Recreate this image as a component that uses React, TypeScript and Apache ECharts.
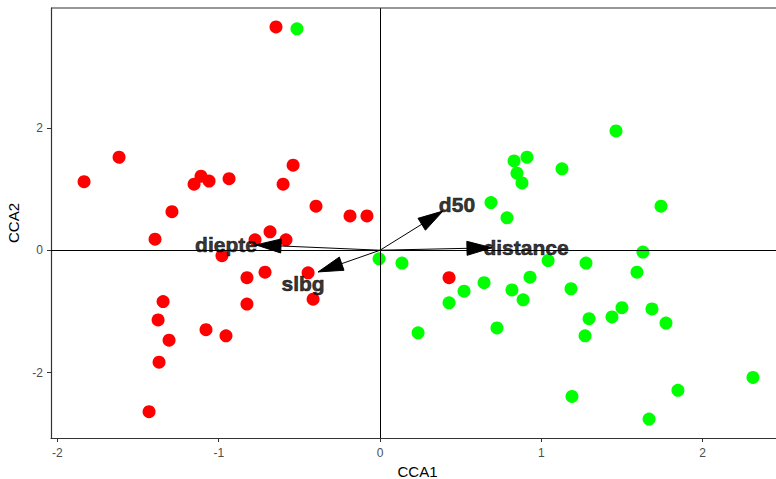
import React, { useEffect, useRef } from "react";
import * as echarts from "echarts";

const redPoints: number[][] = [
  [-0.645, 3.65], [-1.835, 1.12], [-1.618, 1.52], [-1.29, 0.63], [-1.153, 1.08],
  [-1.11, 1.21], [-1.06, 1.13], [-0.936, 1.17], [-1.395, 0.18], [-0.539, 1.39],
  [-0.601, 1.08], [-0.397, 0.72], [-0.186, 0.56], [-0.081, 0.56], [-0.682, 0.3],
  [-0.583, 0.17], [-0.775, 0.17], [-0.98, -0.09], [-0.713, -0.36], [-0.825, -0.45],
  [-0.446, -0.37], [-0.415, -0.8], [-1.345, -0.84], [-1.376, -1.14], [-1.308, -1.47],
  [-1.37, -1.83], [-1.432, -2.64], [-1.079, -1.3], [-0.955, -1.4], [-0.825, -0.88],
  [0.428, -0.45],
];

const greenPoints: number[][] = [
  [-0.515, 3.62], [-0.006, -0.14], [0.136, -0.21], [0.236, -1.35], [0.428, -0.86],
  [0.521, -0.67], [0.645, -0.53], [0.725, -1.27], [0.818, -0.65], [0.887, -0.81],
  [0.93, -0.44], [1.042, -0.17], [1.184, -0.63], [1.277, -0.21], [1.271, -1.4],
  [1.296, -1.12], [1.19, -2.39], [1.438, -1.09], [1.5, -0.94], [1.593, -0.36],
  [1.63, -0.03], [1.686, -0.96], [1.773, -1.19], [1.668, -2.76], [1.847, -2.29],
  [2.312, -2.08], [1.463, 1.95], [0.831, 1.46], [0.911, 1.52], [0.849, 1.26],
  [0.88, 1.1], [1.128, 1.33], [0.688, 0.78], [0.787, 0.53], [1.742, 0.72],
];

const arrowNames = ["diepte", "slbg", "d50", "distance"];
const arrowTips: number[][] = [[-0.769, 0.087], [-0.384, -0.355], [0.39, 0.64], [0.694, 0.04]];
const labelPos: number[][] = [[-0.955, 0.087], [-0.477, -0.55], [0.477, 0.74], [0.905, 0.04]];

const xTicks = [-2, -1, 0, 1, 2];
const yTicks = [-2, 0, 2];

export default function App() {
  const ref = useRef<HTMLDivElement>(null);
  useEffect(() => {
    if (!ref.current) return;
    const chart = echarts.init(ref.current, undefined, { renderer: "svg" });
    const axisColor = "#333333";
    const renderArrow = (_params: any, api: any) => {
      const p0 = api.coord([0, 0]);
      const p1 = api.coord([api.value(0), api.value(1)]);
      const dx = p1[0] - p0[0];
      const dy = p1[1] - p0[1];
      const len = Math.sqrt(dx * dx + dy * dy) || 1;
      const ux = dx / len;
      const uy = dy / len;
      const L = 25;
      const W = 7;
      const bx = p1[0] - ux * L;
      const by = p1[1] - uy * L;
      return {
        type: "group",
        children: [
          {
            type: "line",
            shape: { x1: p0[0], y1: p0[1], x2: p1[0], y2: p1[1] },
            style: { stroke: "#000", lineWidth: 1 },
          },
          {
            type: "polygon",
            shape: {
              points: [
                [p1[0], p1[1]],
                [bx - uy * W, by + ux * W],
                [bx + uy * W, by - ux * W],
              ],
            },
            style: { fill: "#000", stroke: "#000", lineWidth: 1 },
          },
        ],
      };
    };
    chart.setOption({
      animation: false,
      backgroundColor: "#ffffff",
      grid: { left: 51, right: 0, top: 8, bottom: 41, outerBoundsMode: "none", containLabel: false },
      xAxis: {
        type: "value",
        min: -2.04,
        max: 2.455,
        name: "CCA1",
        nameLocation: "middle",
        nameGap: 23,
        nameTextStyle: { color: "#000", fontSize: 15, fontFamily: "Liberation Sans", padding: [0, 0, 0, 8] },
        splitLine: { show: false },
        axisLine: { show: true, onZero: false, lineStyle: { color: axisColor, width: 1.2 } },
        axisTick: { show: true, length: 4, customValues: xTicks, lineStyle: { color: axisColor } },
        axisLabel: { customValues: xTicks, color: "#4d4d4d", fontSize: 12, margin: 9, fontFamily: "Liberation Sans" },
      },
      yAxis: {
        type: "value",
        min: -3.07,
        max: 3.96,
        name: "CCA2",
        nameLocation: "middle",
        nameGap: 22,
        nameTextStyle: { color: "#000", fontSize: 15, fontFamily: "Liberation Sans" },
        splitLine: { show: false },
        axisLine: { show: true, onZero: false, lineStyle: { color: axisColor, width: 1.2 } },
        axisTick: { show: true, length: 4, customValues: yTicks, lineStyle: { color: axisColor } },
        axisLabel: { customValues: yTicks, color: "#4d4d4d", fontSize: 12, margin: 8, fontFamily: "Liberation Sans" },
      },
      graphic: [
        { type: "line", shape: { x1: 51, y1: 8, x2: 776, y2: 8 }, style: { stroke: axisColor, lineWidth: 1.2 }, z: 10 },
      ],
      series: [
        {
          type: "scatter",
          data: redPoints,
          symbolSize: 13,
          itemStyle: { color: "#ff0000", opacity: 1 },
          markLine: {
            silent: true,
            symbol: "none",
            label: { show: false },
            lineStyle: { color: "#000", width: 1, type: "solid" },
            data: [{ xAxis: 0 }, { yAxis: 0 }],
          },
          z: 2,
        },
        {
          type: "scatter",
          data: greenPoints,
          symbolSize: 13,
          itemStyle: { color: "#00ff00", opacity: 1 },
          z: 2,
        },
        {
          type: "scatter",
          symbolSize: 0,
          data: labelPos.map((p, i) => ({ name: arrowNames[i], value: p })),
          label: {
            show: true,
            position: "inside",
            formatter: "{b}",
            color: "#000000",
            fontSize: 21,
            fontWeight: "bold",
            fontFamily: "Liberation Sans",
            textBorderColor: "#000000",
            textBorderWidth: 0.6,
          },
          z: 3,
        },
        {
          type: "custom",
          renderItem: renderArrow,
          data: arrowTips,
          silent: true,
          z: 4,
        },
      ],
    });
    return () => chart.dispose();
  }, []);
  return <div ref={ref} style={{ position: "absolute", left: 0, top: 0, width: 776, height: 479 }} />;
}
